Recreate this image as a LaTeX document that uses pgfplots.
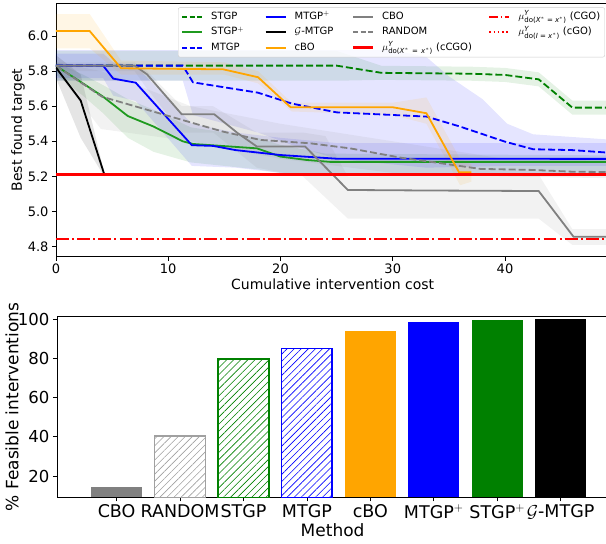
\documentclass[border=0pt]{standalone}
\usepackage{pgfplots}
\pgfplotsset{compat=1.18}
\usepackage{fontspec}
\setmainfont{DejaVu Sans}
\usetikzlibrary{patterns.meta}
\definecolor{mgreen}{HTML}{008000}
\definecolor{sgreen}{HTML}{1F9A1F}
\definecolor{mblue}{HTML}{0000FF}
\definecolor{morange}{HTML}{FFA500}
\definecolor{mgray}{HTML}{808080}
\definecolor{mred}{HTML}{FF0000}
\newcommand{\sm}{\fontsize{7}{8}\selectfont}
\newcommand{\muY}[1]{$\mu^{\hbox{\sm\itshape Y}}_{\hbox{\sm do(#1)}}$}
\begin{document}
\begin{tikzpicture}
\begin{axis}[
  name=top, at={(0pt,0pt)}, anchor=south west,
  scale only axis, width=553.4pt, height=253.4pt,
  xmin=0, xmax=49.3, ymin=4.743, ymax=6.186,
  xtick={0,10,20,30,40}, ytick={4.8,5.0,5.2,5.4,5.6,5.8,6.0},
  yticklabel style={/pgf/number format/.cd, fixed, fixed zerofill, precision=1},
  /pgf/number format/assume math mode=true,
  tick align=outside, tick pos=left, major tick length=4pt,
  tick style={black, line width=0.8pt},
  axis line style={line width=0.8pt},
  ticklabel style={font=\fontsize{13}{15}\selectfont},
  label style={font=\fontsize{14}{16}\selectfont},
  xlabel={Cumulative intervention cost}, ylabel={Best found target},
  xlabel style={yshift=2pt},
  ylabel style={at={(axis description cs:-0.0687,0.5)}, anchor=center},
  legend columns=4,
  legend image code/.code={\draw[#1] (0pt,0pt) -- (20pt,0pt);},
  legend style={font=\fontsize{10}{12}\selectfont, at={(0.2205,0.984)}, anchor=north west,
    draw=black!20, rounded corners=2pt, fill=white, fill opacity=0.8, text opacity=1,
    inner sep=3pt,
    nodes={inner sep=1.5pt, text height=7.5pt, text depth=2.5pt},
    row sep=2.3pt,
    /tikz/every odd column/.append style={column sep=6.5pt},
    /tikz/column 2/.style={text width=52pt, align=left},
    /tikz/column 4/.style={text width=55.6pt, align=left},
    /tikz/column 6/.style={text width=104.6pt, align=left},
    cells={anchor=west}},
]
% ---- bands
\addplot[forget plot, draw=none, fill=mgreen, fill opacity=0.1] coordinates {
 (0,5.915)(25,5.915)(29,5.83)(37,5.825)(40,5.818)(43,5.793)(46,5.632)(49.3,5.632)
 (49.3,5.552)(46,5.552)(43,5.713)(40,5.738)(37,5.745)(29,5.75)(25,5.745)(0,5.745)} -- cycle;
\addplot[forget plot, draw=none, fill=mgreen, fill opacity=0.1] coordinates {
 (0,5.85)(2.4,5.78)(4.2,5.72)(6.4,5.64)(8.7,5.58)(12,5.48)(18,5.42)(20,5.38)(24,5.33)(49.3,5.32)
 (49.3,5.22)(24,5.22)(20,5.22)(18,5.24)(12,5.28)(8.7,5.34)(6.4,5.42)(4.2,5.56)(2.4,5.66)(0,5.78)} -- cycle;
\addplot[forget plot, draw=none, fill=mblue, fill opacity=0.1] coordinates {
 (0,5.92)(30,5.92)(33,5.88)(35,5.77)(38,5.64)(40.2,5.50)(42.5,5.44)(49.3,5.41)
 (49.3,5.26)(40,5.26)(33,5.25)(25,5.30)(21,5.38)(18,5.45)(12.2,5.55)(11.3,5.745)(0,5.745)} -- cycle;
\addplot[forget plot, draw=none, fill=mblue, fill opacity=0.1] coordinates {
 (0,5.9)(4.2,5.9)(5.1,5.85)(7.1,5.83)(12.1,5.5)(16,5.45)(20,5.42)(25,5.39)(49.3,5.39)
 (49.3,5.21)(25,5.21)(20,5.22)(16,5.25)(12.1,5.26)(7.1,5.63)(5.1,5.66)(4.2,5.76)(0,5.76)} -- cycle;
\addplot[forget plot, draw=none, fill=morange, fill opacity=0.1] coordinates {
 (0,6.125)(3,6.125)(5.8,5.86)(15,5.85)(18,5.8)(21,5.62)(30,5.62)(33,5.65)(36,5.3)(37,5.27)
 (37,5.17)(36,5.15)(33,5.5)(30,5.55)(21,5.57)(18,5.73)(15,5.78)(5.8,5.78)(3,5.93)(0,5.93)} -- cycle;
\addplot[forget plot, draw=none, fill=black, fill opacity=0.1] coordinates {
 (0,5.89)(2.2,5.78)(4.3,5.22)(4.3,5.2)(2.2,5.42)(0,5.76)} -- cycle;
\addplot[forget plot, draw=none, fill=mgray, fill opacity=0.1] coordinates {
 (0,5.85)(7,5.85)(8.1,5.8)(11.2,5.6)(14,5.6)(17.9,5.45)(22,5.45)(24,5.43)(26,5.2)(43,5.21)(46,4.9)(49.3,4.9)
 (49.3,4.81)(46,4.81)(43,4.96)(26,4.96)(22,5.2)(17.9,5.25)(14,5.45)(11.2,5.45)(8.1,5.7)(7,5.8)(0,5.8)} -- cycle;
\addplot[forget plot, draw=none, fill=mgray, fill opacity=0.1] coordinates {
 (0,5.85)(4,5.8)(12,5.6)(20,5.5)(30,5.4)(40,5.3)(49.3,5.29)
 (49.3,5.19)(40,5.2)(30,5.22)(20,5.3)(12,5.4)(4,5.47)(0,5.8)} -- cycle;
% ---- lines
\addplot[forget plot, mgreen, line width=1.8pt, dash pattern=on 7pt off 3pt] coordinates {
 (0,5.831)(25,5.831)(29,5.79)(37,5.785)(40,5.778)(43,5.753)(46,5.592)(49.3,5.592)};
\addplot[forget plot, sgreen, line width=1.8pt] coordinates {
 (0,5.83)(2.4,5.73)(4.2,5.654)(6.4,5.544)(8.7,5.484)(11.3,5.40)(12.2,5.385)(17.9,5.36)(20,5.313)(22.3,5.294)(24.4,5.283)(49.3,5.283)};
\addplot[forget plot, mblue, line width=1.8pt, dash pattern=on 7pt off 3pt] coordinates {
 (0,5.831)(11.3,5.831)(12.2,5.736)(18,5.677)(21,5.615)(25,5.565)(33,5.541)(36,5.484)(40,5.398)(42.5,5.355)(46,5.35)(49.3,5.335)};
\addplot[forget plot, mblue, line width=1.8pt] coordinates {
 (0,5.831)(4.2,5.831)(5.1,5.757)(7.1,5.734)(12.1,5.378)(14,5.374)(16,5.35)(20,5.322)(25,5.301)(49.3,5.300)};
\addplot[forget plot, mgray, line width=1.8pt] coordinates {
 (0,5.831)(7.0,5.831)(8.1,5.782)(11.2,5.554)(14.1,5.554)(16.2,5.446)(17.9,5.37)(22.2,5.37)(26.0,5.123)(33,5.12)(43,5.117)(46.1,4.857)(49.3,4.857)};
\addplot[forget plot, mgray, line width=1.8pt, dash pattern=on 7pt off 3pt] coordinates {
 (0,5.83)(4.1,5.654)(12.8,5.493)(14.9,5.455)(18.2,5.408)(22.6,5.389)(26.2,5.36)(30.7,5.307)(33.3,5.284)(37.8,5.243)(42.5,5.237)(46,5.227)(49.3,5.225)};
\addplot[forget plot, morange, line width=1.8pt] coordinates {
 (0,6.028)(3.0,6.028)(5.8,5.816)(14.9,5.81)(18.0,5.765)(20.9,5.594)(30.0,5.594)(33.0,5.56)(35.9,5.224)(37,5.224)};
\addplot[forget plot, black, line width=1.8pt] coordinates {
 (0,5.82)(2.2,5.632)(4.3,5.212)};
\addplot[forget plot, mred, line width=2.7pt] coordinates {(0,5.212)(49.3,5.212)};
\addplot[forget plot, mred, line width=2.3pt, dash pattern=on 12.8pt off 3.2pt on 2pt off 3.2pt] coordinates {(0,4.842)(49.3,4.842)};
% ---- legend (row-wise order reproducing column-major layout)
\addlegendimage{mgreen, line width=2pt, dash pattern=on 5pt off 2.5pt}
\addlegendentry{STGP}
\addlegendimage{mblue, line width=2pt}
\addlegendentry{MTGP$^+$}
\addlegendimage{mgray, line width=2pt}
\addlegendentry{CBO}
\addlegendimage{mred, line width=2pt, dash pattern=on 9pt off 2.5pt on 1.5pt off 2.5pt}
\addlegendentry{\muY{\itshape X\upshape$^{*}$ = \itshape x\upshape$^{*}$} (CGO)}
\addlegendimage{sgreen, line width=2pt}
\addlegendentry{STGP$^+$}
\addlegendimage{black, line width=2pt}
\addlegendentry{$\mathcal{G}$-MTGP}
\addlegendimage{mgray, line width=2pt, dash pattern=on 5pt off 2.5pt}
\addlegendentry{RANDOM}
\addlegendimage{mred, line width=2pt, dash pattern=on 1.6pt off 2.6pt}
\addlegendentry{\muY{\itshape I\upshape{} = \itshape x\upshape$^{*}$} (cGO)}
\addlegendimage{mblue, line width=2pt, dash pattern=on 5pt off 2.5pt}
\addlegendentry{MTGP}
\addlegendimage{morange, line width=2pt}
\addlegendentry{cBO}
\addlegendimage{mred, line width=2.4pt}
\addlegendentry{\muY{\itshape X\upshape$^{*}$ = \itshape x\upshape$^{*}$} (cCGO)}
\end{axis}
\begin{axis}[
  at={(1pt,-240.6pt)}, anchor=south west,
  scale only axis, width=551.2pt, height=180.6pt,
  xmin=-0.94, xmax=7.75, ymin=9.2, ymax=101.2,
  xtick={0,1,2,3,4,5,6,7},
  xticklabels={CBO,RANDOM,STGP,MTGP,cBO,MTGP$^+$,STGP$^+$,$\mathcal{G}$-MTGP},
  ytick={20,40,60,80,100},
  /pgf/number format/assume math mode=true,
  tick align=outside, tick pos=left, major tick length=4pt,
  tick style={black, line width=0.8pt},
  axis line style={line width=0.8pt},
  ticklabel style={font=\fontsize{16.5}{19}\selectfont},
  xticklabel style={font=\fontsize{17.5}{20}\selectfont},
  label style={font=\fontsize{17}{20}\selectfont},
  xlabel={Method}, ylabel={\% Feasible interventions},
  xlabel style={yshift=3pt},
  ylabel style={at={(axis description cs:-0.0816,0.5)}, anchor=center},
]
\addplot[ybar, bar width=0.8, bar shift=0pt, fill=mgray, draw=none] coordinates {(0,14.2)};
\addplot[ybar, bar width=0.8, bar shift=0pt, draw=mgray!75, line width=1.6pt,
  pattern={Lines[angle=45, distance=5pt, line width=0.6pt]}, pattern color=mgray!75] coordinates {(1,40.5)};
\addplot[ybar, bar width=0.8, bar shift=0pt, draw=mgreen, line width=1.6pt,
  pattern={Lines[angle=45, distance=5pt, line width=0.6pt]}, pattern color=mgreen] coordinates {(2,79.7)};
\addplot[ybar, bar width=0.8, bar shift=0pt, draw=mblue, line width=1.6pt,
  pattern={Lines[angle=45, distance=5pt, line width=0.6pt]}, pattern color=mblue] coordinates {(3,85.1)};
\addplot[ybar, bar width=0.8, bar shift=0pt, fill=morange, draw=none] coordinates {(4,93.9)};
\addplot[ybar, bar width=0.8, bar shift=0pt, fill=mblue, draw=none] coordinates {(5,98.4)};
\addplot[ybar, bar width=0.8, bar shift=0pt, fill=mgreen, draw=none] coordinates {(6,99.4)};
\addplot[ybar, bar width=0.8, bar shift=0pt, fill=black, draw=none] coordinates {(7,99.9)};
\end{axis}
\pgfresetboundingbox
\path[use as bounding box] (-56pt,-287.3pt) rectangle (550pt,256.7pt);
\end{tikzpicture}
\end{document}
